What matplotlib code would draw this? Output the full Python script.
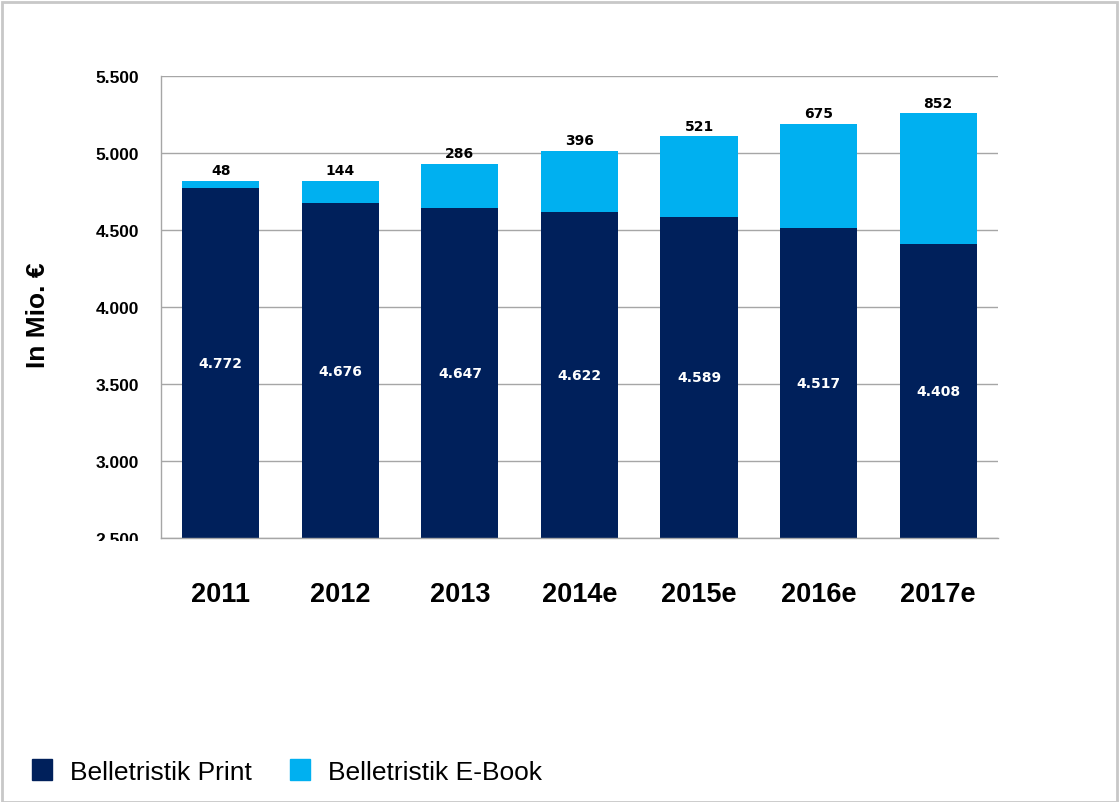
import matplotlib
matplotlib.use('Agg')
import matplotlib.pyplot as plt
from matplotlib.patches import Patch, Rectangle
from matplotlib.transforms import Bbox, TransformedBbox

years = ['2011', '2012', '2013', '2014e', '2015e', '2016e', '2017e']
print_vals = [4772, 4676, 4647, 4622, 4589, 4517, 4408]
ebook_vals = [48, 144, 286, 396, 521, 675, 852]
y_ticks = [2500, 3000, 3500, 4000, 4500, 5000, 5500]

navy = '#00205B'
cyan = '#00B0F0'
grid_gray = '#A6A6A6'


def fmt(v):
    return f'{v:,}'.replace(',', '.')


fig = plt.figure(figsize=(11.2, 8.03), dpi=100)
ax = fig.add_axes([0.1438, 0.3288, 0.891 - 0.1438, 0.9035 - 0.3288])

x = range(len(years))
w = 0.645
ax.bar(x, [p - y_ticks[0] for p in print_vals], w, bottom=y_ticks[0], color=navy, zorder=2)
ax.bar(x, ebook_vals, w, bottom=print_vals, color=cyan, zorder=2)

for i, (p, e) in enumerate(zip(print_vals, ebook_vals)):
    ax.text(i, (y_ticks[0] + p) / 2, fmt(p), ha='center', va='center', color='white',
            fontsize=10, fontweight='bold', family='DejaVu Sans', zorder=3)
    ax.text(i, p + e + 25, fmt(e), ha='center', va='bottom', color='black',
            fontsize=10, fontweight='bold', family='DejaVu Sans', zorder=3)

ax.set_xlim(-0.5, len(years) - 0.5)
ax.set_ylim(y_ticks[0], y_ticks[-1])
ax.set_yticks(y_ticks)
ax.set_yticklabels([fmt(v) for v in y_ticks], fontsize=12.5, fontweight='bold', family='Liberation Sans')
ax.set_xticks(list(x))
ax.set_xticklabels(years, fontsize=19.5, fontweight='bold', family='Liberation Sans')
ax.tick_params(axis='y', length=0, pad=16)
ax.tick_params(axis='x', length=0, pad=31)
ax.yaxis.grid(True, color=grid_gray, linewidth=1, zorder=0)
ax.set_axisbelow(True)
for s in ['top', 'right']:
    ax.spines[s].set_visible(False)
for s in ['left', 'bottom']:
    ax.spines[s].set_color(grid_gray)
    ax.spines[s].set_linewidth(1)

ax.set_ylabel('In Mio. €', fontsize=19, fontweight='bold', family='Liberation Sans', labelpad=0)
ax.yaxis.set_label_coords(-0.133, 0.485)

# bottom tick label is cut off in the original
clip = TransformedBbox(Bbox([[0, (803 - 542) / 803], [1, 1]]), fig.transFigure)
ax.get_yticklabels()[0].set_clip_box(clip)
ax.get_yticklabels()[0].set_clip_on(True)

handles = [Patch(color=navy), Patch(color=cyan)]
fig.legend(handles, ['Belletristik Print', 'Belletristik E-Book'], loc='center left',
           bbox_to_anchor=(0.019, 0.038), ncol=2, frameon=False,
           prop={'family': 'Liberation Sans', 'size': 19}, handlelength=0.76, handleheight=0.8,
           handletextpad=0.68, columnspacing=1.44, borderaxespad=0)

fig.patches.append(Rectangle((0.002, 0.0), 0.995, 0.996, transform=fig.transFigure,
                             fill=False, edgecolor='#C8C8C8', linewidth=2))

fig.savefig('out.png', dpi=100)
